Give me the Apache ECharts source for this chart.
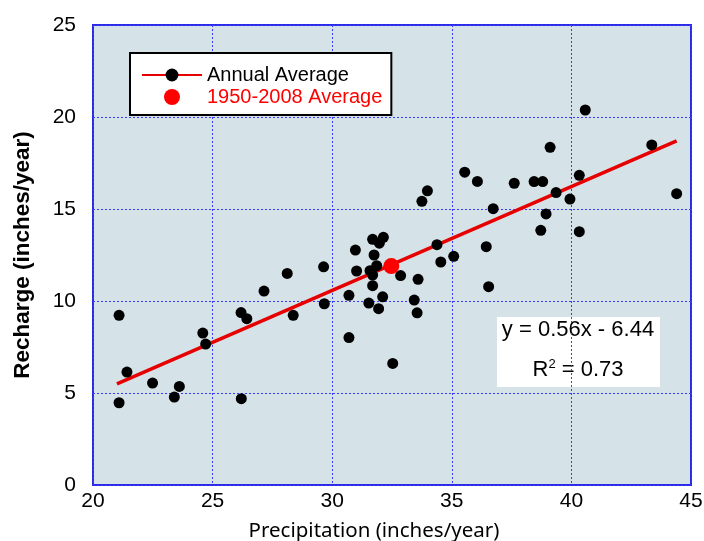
<!DOCTYPE html>
<html>
<head>
<meta charset="utf-8">
<script src="https://cdn.jsdelivr.net/npm/echarts@6/dist/echarts.min.js"></script>
<style>
  html, body { margin: 0; padding: 0; background: #fff; }
  #chart { width: 704px; height: 541px; }
</style>
</head>
<body>
<div id="chart"></div>
<script>
/* Recharge vs precipitation, annual values 1950-2008 */
const precip = [
  21.09, 21.42, 21.09, 22.49, 23.40, 23.61, 24.59, 24.71, 26.19, 26.43,
  26.20, 27.15, 28.12, 28.37, 29.64, 29.67, 30.70, 30.70, 30.97, 31.02,
  31.69, 32.14, 31.97, 31.75, 31.86, 31.58, 31.69, 32.86, 33.59, 31.69,
  32.11, 31.53, 31.94, 33.43, 33.55, 32.53, 33.98, 33.75, 35.54, 36.07,
  37.61, 38.44, 38.80, 39.11, 39.36, 36.73, 38.94, 38.72, 34.38, 34.54,
  35.08, 36.44, 36.54, 40.58, 43.36, 40.33, 39.94, 44.40, 40.33
];
const recharge = [
  9.22, 6.14, 4.47, 5.54, 4.78, 5.36, 8.26, 7.66, 9.37, 9.04,
  4.69, 10.54, 11.50, 9.22, 11.86, 9.85, 10.31, 8.01, 12.77, 11.63,
  13.35, 13.46, 13.14, 12.50, 11.92, 11.65, 11.41, 11.38, 11.18, 10.83,
  10.23, 9.89, 9.58, 10.05, 9.36, 6.61, 15.99, 15.42, 17.00, 16.50,
  16.40, 16.49, 16.49, 18.35, 15.89, 15.02, 14.73, 13.84, 13.06, 12.12,
  12.43, 12.95, 10.78, 20.38, 18.48, 16.83, 15.54, 15.83, 13.77
];
// regression line end points, as drawn
const trendX = [21.0, 44.4];
const trendY = [5.5, 18.7];
// long-term mean
const avgX = [32.47];
const avgY = [11.9];

const xTicks = { min: 20, max: 45, step: 5 };
const yTicks = { min: 0, max: 25, step: 5 };
const equation = 'y = 0.56x - 6.44';
const rSquared = '0.73';

const zip = (a, b) => a.map((v, i) => [v, b[i]]);

const chart = echarts.init(document.getElementById('chart'));
const gridLine = { lineStyle: { color: '#3a3aff', type: [2, 2], width: 1 } };
const FONT = 'Liberation Sans, Arial, sans-serif';

chart.setOption({
  animation: false,
  textStyle: { fontFamily: FONT },
  grid: {
    left: 93, right: 13, top: 25, bottom: 56,
    outerBoundsMode: 'none',
    show: true,
    backgroundColor: '#d5e2e7',
    borderColor: '#2a2ae6',
    borderWidth: 2
  },
  legend: {
    orient: 'vertical',
    left: 130, top: 53,
    padding: [12, 9, 8, 11],
    backgroundColor: '#fff',
    borderColor: '#000',
    borderWidth: 2,
    borderRadius: 0,
    itemWidth: 60,
    itemHeight: 16,
    itemGap: 2,
    selectedMode: false,
    textStyle: { fontSize: 20, color: '#000' },
    data: [
      { name: 'Annual Average' },
      { name: '1950-2008 Average', textStyle: { color: '#ff0000' } }
    ]
  },
  xAxis: {
    type: 'value',
    min: xTicks.min, max: xTicks.max, interval: xTicks.step,
    axisLine: { show: false },
    axisTick: { show: false },
    axisLabel: { color: '#000', fontSize: 21, margin: 6 },
    splitLine: gridLine,
    name: 'Precipitation (inches/year)',
    nameLocation: 'middle',
    nameGap: 36,
    nameTextStyle: {
      fontFamily: 'Noto Sans', fontSize: 20.5, color: '#000',
      padding: [0, 36, 0, 0]
    }
  },
  yAxis: {
    type: 'value',
    min: yTicks.min, max: yTicks.max, interval: yTicks.step,
    axisLine: { show: false },
    axisTick: { show: false },
    axisLabel: { color: '#000', fontSize: 21, margin: 17 },
    splitLine: gridLine,
    name: 'Recharge (inches/year)',
    nameLocation: 'middle',
    nameGap: 59,
    nameTextStyle: { fontSize: 22.5, fontWeight: 'bold', color: '#000' }
  },
  series: [
    {
      name: 'Annual Average',
      type: 'line',
      data: zip(trendX, trendY),
      showSymbol: false,
      symbol: 'circle',
      itemStyle: { color: '#000' },
      lineStyle: { color: '#e60000', width: 3.5 },
      z: 2
    },
    {
      name: 'points',
      type: 'scatter',
      data: zip(precip, recharge),
      symbolSize: 11,
      itemStyle: { color: '#000', opacity: 1 },
      z: 3
    },
    {
      name: '1950-2008 Average',
      type: 'scatter',
      data: zip(avgX, avgY),
      symbolSize: 16,
      itemStyle: { color: '#ff0000', opacity: 1 },
      z: 4
    }
  ],
  graphic: [
    {
      type: 'group',
      left: 497, top: 317,
      children: [
        { type: 'rect', shape: { x: 0, y: 0, width: 163, height: 70 }, style: { fill: '#fff' } },
        {
          type: 'text', x: 81, y: 13,
          style: { text: equation, fontSize: 22, fill: '#000', align: 'center', verticalAlign: 'middle',
                   fontFamily: FONT }
        },
        {
          type: 'text', x: 81, y: 53,
          style: {
            text: 'R{sup|2} = ' + rSquared,
            fontSize: 22, fill: '#000', align: 'center', verticalAlign: 'middle',
            fontFamily: FONT,
            rich: { sup: { fontSize: 13, verticalAlign: 'top', padding: [0, 0, 12, 0], fontFamily: FONT } }
          }
        }
      ]
    }
  ]
});
</script>
</body>
</html>
